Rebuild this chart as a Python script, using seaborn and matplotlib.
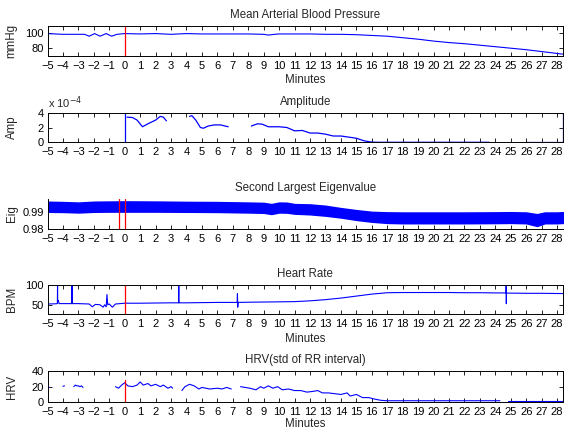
import numpy as np
import pandas as pd
import matplotlib
matplotlib.use("Agg")
import matplotlib.pyplot as plt
import seaborn as sns

# ---- data (time in minutes) ----
map_t = [-5, -4, -3, -2.6, -2.3, -1.95, -1.6, -1.2, -0.85, -0.5, 0, 1, 2, 3, 4, 5, 6, 7, 8, 9,
         9.3, 9.7, 10, 11, 12, 13, 14, 15, 15.5, 16, 17, 18, 19, 20, 21, 22, 23, 24, 25, 26,
         27, 28, 28.4]
map_v = [99.5, 98.5, 98.5, 98.5, 96, 99.5, 96, 99.5, 96, 98.5, 99.5, 99, 99.5, 98.5, 99.5, 99,
         99, 99, 99, 98.5, 97.5, 98.5, 99, 99, 99, 98.5, 98.5, 98, 97.5, 97, 96, 94, 92, 89.5,
         87.5, 86, 84, 82, 80, 78, 75.5, 73, 72]

# amplitude in units of 1e-4, broken into segments
amp_t = [0, 0,
         0.15, 0.5, 0.8, 1.15, 1.5, 2.0, 2.3, 2.5, 2.7,
         4.2, 4.35, 4.6, 4.9, 5.1, 5.4, 5.8, 6.2, 6.7,
         8.2, 8.6, 8.9, 9.3, 10.0, 10.5, 11.0, 11.5, 12.0, 12.5, 13.0, 13.5, 14.0, 14.5, 15.0,
         15.5, 16.0, 16.5, 23.6,
         26.0, 28.4, 28.4]
amp_v = [0, 4,
         3.4, 3.35, 3.0, 2.1, 2.5, 3.0, 3.5, 3.4, 2.9,
         3.5, 3.6, 3.0, 2.0, 1.9, 2.2, 2.35, 2.35, 2.1,
         2.2, 2.5, 2.45, 2.1, 2.1, 2.0, 1.55, 1.6, 1.25, 1.25, 1.1, 0.85, 0.85, 0.7, 0.55,
         0.2, 0.02, 0, 0,
         0, 0, 4]
amp_seg = [0] * 2 + [1] * 9 + [2] * 9 + [3] * 19 + [4] * 3

eig_t = [-5, -4, -3, -2, -1, 0, 2, 4, 6, 8, 9, 9.5, 10, 10.5, 11, 12, 13, 14, 15, 16, 17, 18,
         20, 22, 24, 25, 26, 26.7, 27.2, 28, 28.4]
eig_hi = [0.9960, 0.9958, 0.9955, 0.9960, 0.9961, 0.9962, 0.9961, 0.9959, 0.9958, 0.9955,
          0.9953, 0.9946, 0.9955, 0.9954, 0.9946, 0.9944, 0.9936, 0.9922, 0.9910, 0.9900,
          0.9897, 0.9896, 0.9896, 0.9896, 0.9897, 0.9898, 0.9896, 0.9886, 0.9896, 0.9896, 0.9898]
eig_lo = [0.9904, 0.9903, 0.9900, 0.9904, 0.9905, 0.9905, 0.9905, 0.9904, 0.9903, 0.9900,
          0.9898, 0.9891, 0.9900, 0.9899, 0.9893, 0.9889, 0.9881, 0.9870, 0.9856, 0.9845,
          0.9838, 0.9836, 0.9836, 0.9836, 0.9837, 0.9838, 0.9836, 0.9820, 0.9836, 0.9836, 0.9838]

hr_t = [-5, -4.5, -4.36, -4.35, -4.34, -4.3, -4.25, -4.0, -3.42, -3.41, -3.40, -3.0, -2.3, -2.1,
        -1.9, -1.6, -1.4, -1.3, -1.2, -1.15, -1.1, -1.0, -0.8, -0.6, 0, 1, 2, 3, 3.49, 3.5,
        3.51, 4, 5, 6, 7, 7.28, 7.3, 7.32, 7.34, 8, 9, 10, 11, 12, 13, 14, 15, 16, 17, 18, 19,
        20, 21, 22, 23, 24, 24.69, 24.7, 24.71, 24.72, 25, 26, 27, 28, 28.4]
hr_v = [52, 52.5, 53, 105, 58, 61, 53, 53, 53, 105, 53, 53, 52, 45,
        51, 50, 44, 50, 45, 76, 50, 52, 44, 52, 54, 54, 54.5, 55, 55, 105,
        55, 55, 55.5, 56, 56, 56, 78, 44, 56, 56.5, 57, 57.5, 58, 60, 63, 67, 72, 77, 80.5, 81, 81,
        81, 81, 80.5, 80.5, 80, 80, 105, 53, 79.5, 79.5, 79, 79, 78.5, 78.5]

hrv_t = [-5, -4.9,
         -4.0, -3.9,
         -3.3, -3.2, -3.1, -3.0, -2.9, -2.8, -2.7,
         -0.6, -0.4, -0.2, 0, 0.2, 0.5, 0.8, 1.0, 1.2, 1.5, 1.7, 2.0, 2.3, 2.5, 2.8, 3.0, 3.1,
         3.7, 3.9, 4.2, 4.5, 4.8, 5.0, 5.5, 6.0, 6.3, 6.6, 6.9,
         7.5, 7.8, 8.1, 8.5, 8.8, 9.0, 9.3, 9.6, 9.9, 10.2, 10.6, 11.0, 11.4, 11.8, 12.2, 12.5,
         12.8, 13.2, 13.6, 14.0, 14.4, 14.6, 15.0, 15.4, 15.8, 16.2, 16.6, 17.0, 24.3,
         24.8, 28.4]
hrv_v = [20, 20,
         20.5, 21,
         20, 22, 21, 21, 20, 21, 19,
         20, 18, 22, 25, 21, 20, 22, 26, 22, 24, 21, 23, 20, 22, 18, 20, 18,
         15, 20, 23, 21, 17, 19, 17, 18, 17, 19, 17,
         20, 19, 18, 16, 20, 18, 21, 18, 20, 16, 17, 15, 15, 13, 14, 15,
         12, 12, 11, 10, 12, 8, 10, 6, 6, 4, 2.5, 2, 2,
         2, 2]
hrv_seg = [0] * 2 + [1] * 2 + [2] * 7 + [3] * 17 + [4] * 11 + [5] * 29 + [6] * 2

sns.set_theme(style="ticks")
plt.rcParams['font.family'] = ['Liberation Sans', 'DejaVu Sans']
plt.rcParams.update({
    'font.size': 8,
    'axes.linewidth': 0.7,
    'axes.edgecolor': 'black',
    'axes.titlesize': 8.3,
    'axes.labelsize': 8.3,
    'xtick.labelsize': 8,
    'ytick.labelsize': 8,
})

BLUE = '#0000ff'
RED = '#ff0000'

fig = plt.figure(figsize=(5.66, 4.30), dpi=100)
W_PX, H_PX = 566, 430
LEFT, RIGHT = 47.5, 563.3


def add_panel(top, height, box=True):
    ax = fig.add_axes([LEFT / W_PX, 1 - (top + height) / H_PX,
                       (RIGHT - LEFT) / W_PX, height / H_PX])
    ax.set_xlim(-5, 28.4)
    ax.set_xticks(range(-5, 29))
    ax.tick_params(direction='in', length=3.2, width=0.6,
                   top=box, right=box, colors='black')
    ax.tick_params(axis='x', pad=3.6)
    ax.tick_params(axis='y', pad=2.5)
    if not box:
        ax.spines['top'].set_visible(False)
        ax.spines['right'].set_visible(False)
    ax.set_facecolor('white')
    return ax


def finish(ax, ylabel, title, xlabel=None, xpad=2.5):
    ax.set_ylabel(ylabel)
    ax.yaxis.set_label_coords(-0.058, 0.5)
    ax.set_title(title, pad=5.5)
    ax.set_xlabel(xlabel if xlabel else '', labelpad=xpad)


# 1. Mean arterial blood pressure
ax1 = add_panel(25.7, 30)
sns.lineplot(x=map_t, y=map_v, ax=ax1, color=BLUE, lw=0.8, sort=False)
ax1.axvline(0, color=RED, lw=0.9)
ax1.set_ylim(70, 110)
ax1.set_yticks([80, 100])
finish(ax1, 'mmHg', 'Mean Arterial Blood Pressure', 'Minutes')

# 2. Amplitude
ax2 = add_panel(112.7, 29.6)
amp_df = pd.DataFrame({'t': amp_t, 'v': amp_v, 'seg': amp_seg})
sns.lineplot(data=amp_df, x='t', y='v', units='seg', estimator=None, sort=False,
             ax=ax2, color=BLUE, lw=0.9, legend=False)
ax2.set_ylim(0, 4)
ax2.set_yticks([0, 2, 4])
ax2.text(0, 1.06, r'x 10$^{-4}$', transform=ax2.transAxes, ha='left', va='bottom', fontsize=8)
finish(ax2, 'Amp', 'Amplitude')

# 3. Second largest eigenvalue
ax3 = add_panel(199, 30, box=False)
ax3.fill_between(eig_t, eig_lo, eig_hi, color=BLUE, lw=1.5, edgecolor=BLUE)
ax3.axvline(-0.37, color=RED, lw=0.9)
ax3.axvline(0, color=RED, lw=0.9)
ax3.set_ylim(0.98, 0.9978)
ax3.set_yticks([0.98, 0.99])
ax3.set_yticklabels(['0.98', '0.99'])
finish(ax3, 'Eig', 'Second Largest Eigenvalue')

# 4. Heart rate
ax4 = add_panel(285, 29.3)
sns.lineplot(x=hr_t, y=hr_v, ax=ax4, color=BLUE, lw=0.8, sort=False)
ax4.axvline(0, color=RED, lw=0.9)
ax4.set_ylim(26, 100)
ax4.set_yticks([50, 100])
finish(ax4, 'BPM', 'Heart Rate', 'Minutes')

# 5. HRV
ax5 = add_panel(371, 31.3)
hrv_df = pd.DataFrame({'t': hrv_t, 'v': hrv_v, 'seg': hrv_seg})
sns.lineplot(data=hrv_df, x='t', y='v', units='seg', estimator=None, sort=False,
             ax=ax5, color=BLUE, lw=0.8, legend=False)
ax5.axvline(0, ymax=29 / 40, color=RED, lw=0.9)
ax5.set_ylim(0, 40)
ax5.set_yticks([0, 20, 40])
finish(ax5, 'HRV', 'HRV(std of RR interval)', 'Minutes', xpad=0.3)

fig.savefig('out.png', dpi=100, facecolor='white')
plt.close(fig)
